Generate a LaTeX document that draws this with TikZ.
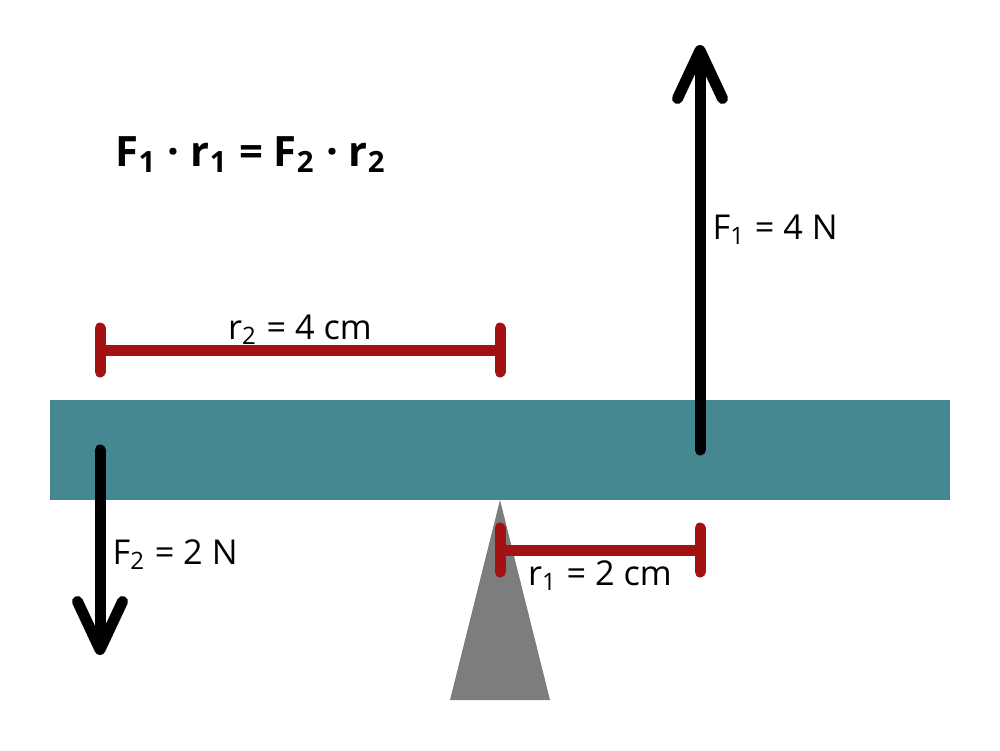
\documentclass[tikz,border=0pt]{standalone}
\usepackage{xcolor}
\usepackage{fontspec}
\setmainfont{Open Sans}
\usetikzlibrary{arrows.meta, positioning}
\definecolor{beamteal}{RGB}{69, 136, 145}
\definecolor{leverred}{RGB}{163, 18, 18}
\definecolor{pivotgray}{RGB}{125, 125, 125}

\begin{document}
\begin{tikzpicture}[
    force/.style={line width=1.1mm, -{Straight Barb[length=4.8mm, width=4.5mm, line width=1.1mm, round]}, line cap=round},
    arm/.style={line width=1.1mm, draw=leverred},
    tick/.style={line width=1.1mm, draw=leverred, line cap=round},
    label/.style={font=\fontsize{9.75pt}{12pt}\selectfont, inner sep=0pt, text=black},
    formula/.style={font=\fontsize{11.9pt}{14pt}\selectfont\bfseries, inner sep=0pt, text=black}
]
    \useasboundingbox (0, 0) rectangle (10, 7.5);

    % Beam and pivot
    \fill[beamteal] (0.5, 2.5) rectangle (9.5, 3.5);
    \fill[pivotgray] (4.5, 0.5) -- (5.5, 0.5) -- (5, 2.5) -- cycle;

    % Anchor points
    \coordinate (r2left) at (1, 4);
    \coordinate (r2right) at (5, 4);
    \coordinate (r1left) at (5, 2);
    \coordinate (r1right) at (7, 2);
    \coordinate (f1start) at (7, 3);
    \coordinate (f1end) at (7, 7.05);
    \coordinate (f2start) at (1, 3);
    \coordinate (f2end) at (1, 0.95);

    % Lever arms
    \draw[arm] (r2left) -- (r2right);
    \draw[tick] (r2left) ++(0, 0.22) -- ++(0, -0.44);
    \draw[tick] (r2right) ++(0, 0.22) -- ++(0, -0.44);
    \draw[arm] (r1left) -- (r1right);
    \draw[tick] (r1left) ++(0, 0.22) -- ++(0, -0.44);
    \draw[tick] (r1right) ++(0, 0.22) -- ++(0, -0.44);

    % Forces
    \draw[force] (f1start) -- (f1end);
    \draw[force] (f2start) -- (f2end);

    % Labels
    \node[label, anchor=base west] (f1label) at (7.12, 5.11) {F\textsubscript{1} = 4 N};
    \node[label, anchor=base west] (f2label) at (1.12, 1.86) {F\textsubscript{2} = 2 N};
    \node[label, anchor=base] (r2label) at (3, 4.11) {r\textsubscript{2} = 4 cm};
    \node[label, anchor=base] (r1label) at (6, 1.65) {r\textsubscript{1} = 2 cm};
    \node[formula, anchor=base west] (formula) at (1.15, 5.84) {F\textsubscript{1} · r\textsubscript{1} = F\textsubscript{2} · r\textsubscript{2}};
\end{tikzpicture}
\end{document}
